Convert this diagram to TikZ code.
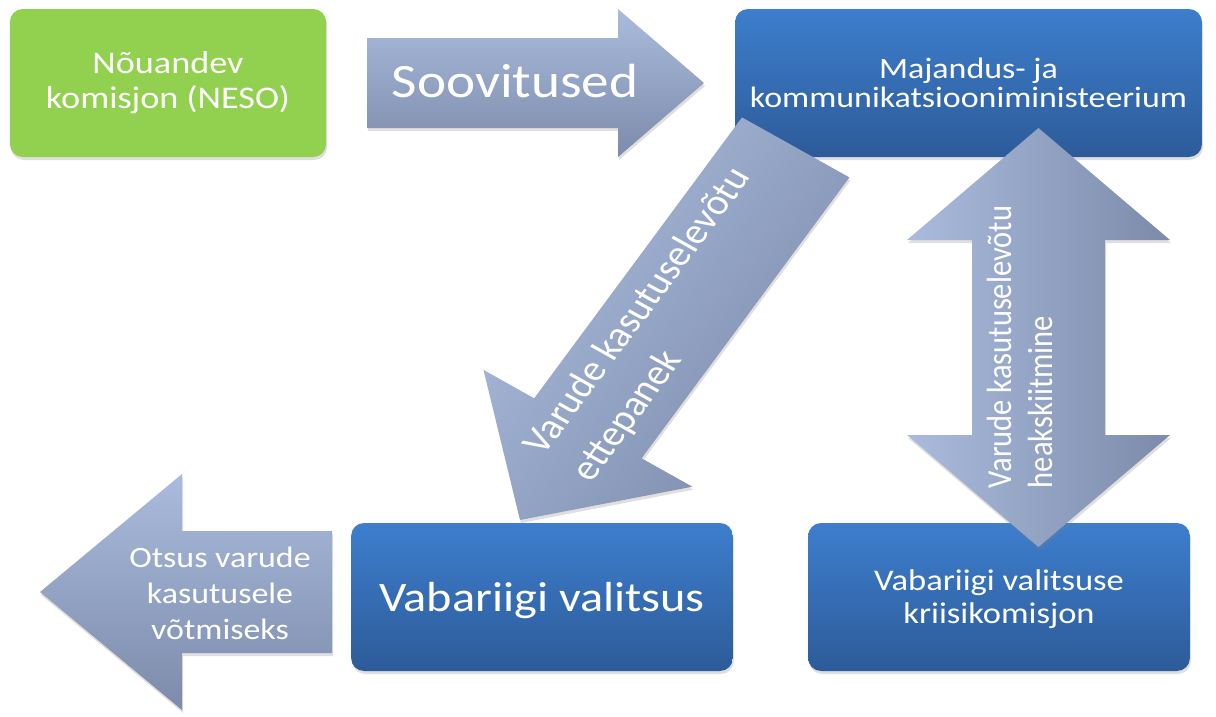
\documentclass[tikz,border=0pt]{standalone}
\usepackage{fontspec}
\setmainfont{Carlito}
\usetikzlibrary{shadows}
\definecolor{nesogreen}{RGB}{146,208,80}
\definecolor{boxtop}{RGB}{61,126,205}
\definecolor{boxbottom}{RGB}{45,91,153}
\definecolor{arrowlight}{RGB}{170,187,221}
\definecolor{arrowdark}{RGB}{124,139,170}
\tikzset{stretched/.style={xscale=1.15},
    softshadow/.style={drop shadow={opacity=0.25,shadow xshift=1pt,shadow yshift=-3pt}},
    box/.style={stretched,softshadow,rounded corners=13pt,minimum height=148pt,
        text=white,align=center},
    greenbox/.style={box,fill=nesogreen},
    bluebox/.style={box,top color=boxtop,bottom color=boxbottom,text depth=0pt},
    blockarrow/.style={softshadow,top color=arrowlight,bottom color=arrowdark},
    arrowtext/.style={stretched,text=white,inner sep=0pt}}

\begin{document}
\begin{tikzpicture}[x=1pt,y=-1pt]
\useasboundingbox (0,0) rectangle (1216,716);
% boxes
\node[greenbox,minimum width=275pt,font=\fontsize{31.5}{35}\selectfont] (neso) at (168,83)
    {Nõuandev\\komisjon (NESO)};
\node[bluebox,minimum width=406pt,font=\fontsize{29.5}{29.5}\selectfont] (mkm) at (968.5,83)
    {Majandus- ja\\kommunikatsiooniministeerium};
\node[bluebox,minimum width=332pt,font=\fontsize{42}{50}\selectfont] (vv) at (542,597)
    {Vabariigi valitsus};
\node[bluebox,minimum width=332pt,font=\fontsize{30}{33}\selectfont] (kk) at (999,597)
    {Vabariigi valitsuse\\kriisikomisjon};
% block arrows
\shade[blockarrow] (367,38) -- (618,38) -- (618,9) -- (704,83) -- (618,157)
    -- (618,128) -- (367,128) -- cycle;
\shade[blockarrow] (332,531) -- (182,531) -- (182,474) -- (40,592) -- (182,710)
    -- (182,653) -- (332,653) -- cycle;
\shade[blockarrow,shading angle=53] (742,117.4) -- (849.4,177.4) -- (641.6,458.3)
    -- (692.3,486.7) -- (520,520) -- (483.5,369.9) -- (534.2,398.3) -- cycle;
\shade[blockarrow,shading angle=90] (1038.5,128) -- (1170,240) -- (1105,240)
    -- (1105,435) -- (1170,435) -- (1038.5,547) -- (907,435) -- (972,435)
    -- (972,240) -- (907,240) -- cycle;
% arrow labels
\node[arrowtext,font=\fontsize{48}{55}\selectfont] (soov) at (515,81) {Soovitused};
\node[arrowtext,align=center,font=\fontsize{29.5}{36}\selectfont] (otsus) at (220,593)
    {Otsus varude\\kasutusele\\võtmiseks};
\node[arrowtext,rotate=57.2,align=left,font=\fontsize{36}{49}\selectfont] (ettepanek)
    at (662,325) {Varude kasutuselevõtu\\ettepanek};
\node[arrowtext,rotate=90,align=left,font=\fontsize{30.5}{36}\selectfont] (heakskiit)
    at (1020,347) {Varude kasutuselevõtu\\heakskiitmine};
\end{tikzpicture}
\end{document}
